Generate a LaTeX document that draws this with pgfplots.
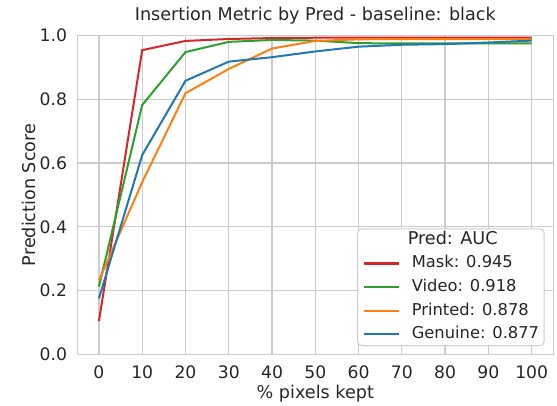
\documentclass[border=0pt]{standalone}
\usepackage{fontspec}
\setmainfont{DejaVu Sans}
\usepackage{pgfplots}
\pgfplotsset{compat=1.18}
\usetikzlibrary{calc}

\definecolor{tabred}{HTML}{D62728}
\definecolor{tabgreen}{HTML}{2CA02C}
\definecolor{taborange}{HTML}{FF7F0E}
\definecolor{tabblue}{HTML}{1F77B4}
\definecolor{gridgray}{HTML}{CCCCCC}
\definecolor{txt}{HTML}{262626}

\begin{document}
\color{txt}%
\begin{tikzpicture}
\begin{axis}[
  scale only axis,
  width=476pt, height=318.8pt,
  xmin=-5, xmax=105, ymin=0, ymax=1,
  xtick={0,10,...,100},
  ytick={0,0.2,0.4,0.6,0.8,1.0},
  yticklabel style={/pgf/number format/fixed, /pgf/number format/fixed zerofill, /pgf/number format/precision=1},
  /pgf/number format/assume math mode=true,
  major tick length=0pt,
  grid=major,
  grid style={gridgray, line width=1.3pt},
  axis line style={gridgray, line width=1.3pt},
  tick label style={font=\fontsize{17.2pt}{20pt}\selectfont, inner sep=0pt},
  xticklabel style={anchor=north, yshift=-11pt},
  yticklabel style={anchor=east, xshift=-10pt},
  title={Insertion Metric by Pred - baseline: black},
  title style={font=\fontsize{17.6pt}{20pt}\selectfont, at={(0.5,1)}, anchor=base, yshift=9pt, inner sep=0pt},
  xlabel={\% pixels kept},
  xlabel style={font=\fontsize{17.6pt}{20pt}\selectfont, at={(0.5,0)}, anchor=base, yshift=-44pt, inner sep=0pt},
  ylabel={Prediction Score},
  ylabel style={font=\fontsize{17.6pt}{20pt}\selectfont, at={(0,0.5)}, anchor=base, yshift=42pt, inner sep=0pt},
  every axis plot/.append style={line width=2pt, no markers},
  legend cell align=left,
  legend image code/.code={\draw[#1] (0pt,0pt) -- (35pt,0pt);},
  legend style={
    at={(1,0)}, anchor=south east, xshift=-8.7pt, yshift=8.3pt,
    draw=gridgray, line width=1pt, rounded corners=4pt, fill=white,
    font=\fontsize{16.3pt}{19pt}\selectfont,
    inner xsep=5pt, inner ysep=3pt, column sep=12pt, row sep=7.3pt,
    nodes={inner sep=0pt, text height=12.5pt, text depth=3.8pt},
  },
]
\addplot[tabred, forget plot] coordinates {
  (0,0.104) (10,0.954) (20,0.983) (30,0.989) (40,0.992) (50,0.993)
  (60,0.993) (70,0.993) (80,0.993) (90,0.993) (100,0.993)
};
\addplot[tabgreen, forget plot] coordinates {
  (0,0.212) (10,0.782) (20,0.948) (30,0.980) (40,0.986) (50,0.984)
  (60,0.976) (70,0.975) (80,0.975) (90,0.975) (100,0.975)
};
\addplot[taborange, forget plot] coordinates {
  (0,0.231) (10,0.540) (20,0.819) (30,0.895) (40,0.959) (50,0.983)
  (60,0.988) (70,0.989) (80,0.989) (90,0.989) (100,0.989)
};
\addplot[tabblue, forget plot] coordinates {
  (0,0.175) (10,0.625) (20,0.858) (30,0.918) (40,0.932) (50,0.950)
  (60,0.965) (70,0.971) (80,0.973) (90,0.978) (100,0.984)
};

\addlegendimage{empty legend}
\addlegendentry{\hspace{-4pt}\fontsize{17.6pt}{19pt}\selectfont Pred: AUC}
\addlegendimage{tabred, line width=2.2pt}
\addlegendentry{Mask: 0.945}
\addlegendimage{tabgreen, line width=2.2pt}
\addlegendentry{Video: 0.918}
\addlegendimage{taborange, line width=2.2pt}
\addlegendentry{Printed: 0.878}
\addlegendimage{tabblue, line width=2.2pt}
\addlegendentry{Genuine: 0.877\hspace{3pt}}
\end{axis}
\pgfresetboundingbox
\path[use as bounding box] ($(current axis.south west)+(-77.3pt,-50.8pt)$) rectangle ($(current axis.north east)+(3.7pt,35.5pt)$);
\end{tikzpicture}
\end{document}
